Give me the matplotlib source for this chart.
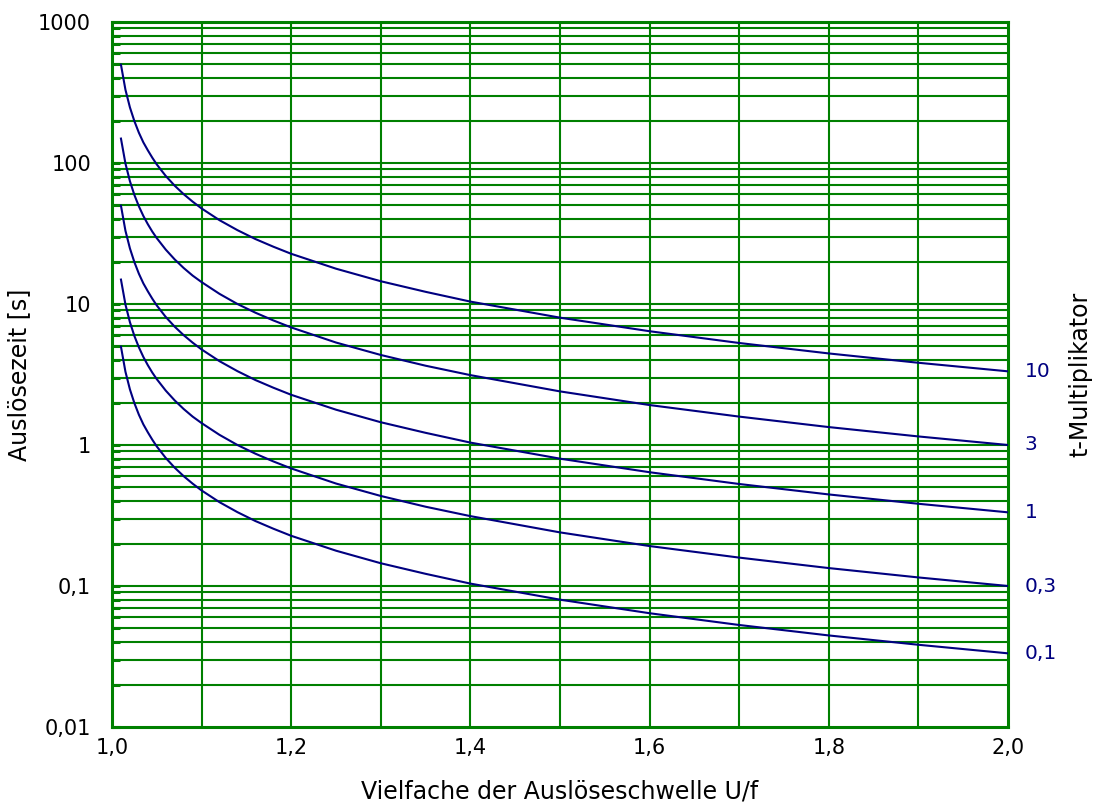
import matplotlib.pyplot as plt
import matplotlib.ticker as mticker
import numpy as np

# trip time [s] vs multiple of U/f threshold
x_vals = [1.01, 1.015, 1.02, 1.025, 1.03, 1.035, 1.04, 1.045, 1.05, 1.06,
          1.07, 1.08, 1.09, 1.10, 1.12, 1.14, 1.16, 1.18, 1.20, 1.25,
          1.30, 1.35, 1.40, 1.50, 1.60, 1.70, 1.80, 1.90, 2.00]

t_01 = [4.98, 3.31, 2.48, 1.98, 1.64, 1.40, 1.23, 1.09, 0.976, 0.809,
        0.690, 0.601, 0.532, 0.476, 0.393, 0.334, 0.289, 0.255, 0.227, 0.178,
        0.145, 0.122, 0.104, 0.0800, 0.0641, 0.0529, 0.0446, 0.0383, 0.0333]
t_03 = [14.9, 9.92, 7.43, 5.93, 4.93, 4.21, 3.68, 3.26, 2.93, 2.43,
        2.07, 1.80, 1.59, 1.43, 1.18, 1.00, 0.868, 0.765, 0.682, 0.533,
        0.435, 0.365, 0.313, 0.240, 0.192, 0.159, 0.134, 0.115, 0.100]
t_1 = [49.8, 33.1, 24.8, 19.8, 16.4, 14.0, 12.3, 10.9, 9.76, 8.09,
       6.90, 6.01, 5.32, 4.76, 3.93, 3.34, 2.89, 2.55, 2.27, 1.78,
       1.45, 1.22, 1.04, 0.800, 0.641, 0.529, 0.446, 0.383, 0.333]
t_3 = [149, 99.2, 74.3, 59.3, 49.3, 42.1, 36.8, 32.6, 29.3, 24.3,
       20.7, 18.0, 15.9, 14.3, 11.8, 10.0, 8.68, 7.65, 6.82, 5.33,
       4.35, 3.65, 3.13, 2.40, 1.92, 1.59, 1.34, 1.15, 1.00]
t_10 = [498, 331, 248, 198, 164, 140, 123, 109, 97.6, 80.9,
        69.0, 60.1, 53.2, 47.6, 39.3, 33.4, 28.9, 25.5, 22.7, 17.8,
        14.5, 12.2, 10.4, 8.00, 6.41, 5.29, 4.46, 3.83, 3.33]

curves = [t_01, t_03, t_1, t_3, t_10]
curve_labels = ["0,1", "0,3", "1", "3", "10"]

y_ticks = [0.01, 0.1, 1, 10, 100, 1000]
y_ticklabels = ["0,01", "0,1", "1", "10", "100", "1000"]
x_ticks = [1.0, 1.2, 1.4, 1.6, 1.8, 2.0]
x_ticklabels = ["1,0", "1,2", "1,4", "1,6", "1,8", "2,0"]

grid_col = "#008000"
line_col = "#000080"

fig = plt.figure(figsize=(10.96, 8.05), dpi=100)
ax = fig.add_axes([112/1096, 1 - 727/805, (1008-112)/1096, (727-22)/805])

ax.set_yscale("log")
ax.set_xlim(1.0, 2.0)
ax.set_ylim(0.01, 1000)

# grid: vertical every 0.1, horizontal at every log minor step
for xv in np.arange(1.1, 2.0, 0.1):
    ax.axvline(xv, color=grid_col, lw=1.5, zorder=1)
for dec in [0.01, 0.1, 1, 10, 100]:
    for m in range(1, 10):
        yv = dec * m
        if 0.01 < yv < 1000:
            ax.axhline(yv, color=grid_col, lw=1.5, zorder=1)

for vals, lab in zip(curves, curve_labels):
    ax.plot(x_vals, vals, color=line_col, lw=1.5, zorder=3)
    ax.annotate(lab, xy=(x_vals[-1], vals[-1]), xytext=(12, 0),
                textcoords="offset points", va="center", ha="left",
                color=line_col, fontsize=14.5, annotation_clip=False)

ax.set_yticks(y_ticks)
ax.set_yticklabels(y_ticklabels, fontsize=15)
ax.yaxis.set_minor_locator(mticker.LogLocator(base=10, subs=np.arange(2, 10)))
ax.yaxis.set_minor_formatter(mticker.NullFormatter())
ax.set_xticks(x_ticks)
ax.set_xticklabels(x_ticklabels, fontsize=15)
ax.tick_params(axis="x", length=0, pad=8)
ax.tick_params(axis="y", which="both", direction="in", length=6, width=2.2,
               color=grid_col, pad=15)

for sp in ax.spines.values():
    sp.set_color(grid_col)
    sp.set_linewidth(2.2)

ax.set_ylabel("Auslösezeit [s]", fontsize=17)
ax.yaxis.set_label_coords(-0.09, 0.5)
ax.set_xlabel("Vielfache der Auslöseschwelle U/f", fontsize=17)
ax.xaxis.set_label_coords(0.5, -0.075)

fig.text(1080/1096, 1 - 374/805, "t-Multiplikator", rotation=90,
         fontsize=17, ha="center", va="center")

fig.savefig("out.png", dpi=100)
